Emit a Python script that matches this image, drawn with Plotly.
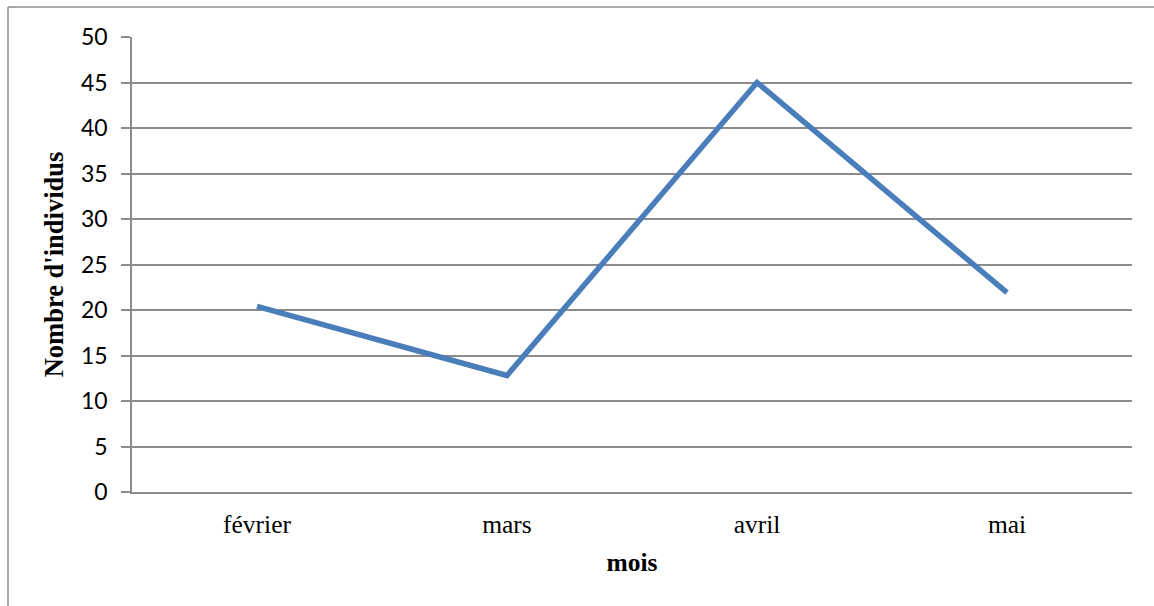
import plotly.graph_objects as go

# Monthly counts
mois = ["février", "mars", "avril", "mai"]
individus = [20.4, 12.8, 45.0, 21.9]
y_ticks = [0, 5, 10, 15, 20, 25, 30, 35, 40, 45, 50]

GRID = "#8c8c8c"
LINE = "#4a7ebb"
SERIF = "Liberation Serif"

fig = go.Figure()
fig.add_trace(go.Scatter(
    x=mois, y=individus, mode="lines",
    line=dict(color=LINE, width=5.5),
    hoverinfo="skip", showlegend=False,
))

fig.update_layout(
    width=1154, height=606,
    margin=dict(l=132, r=22, t=37, b=114),
    paper_bgcolor="white", plot_bgcolor="white",
    showlegend=False,
    xaxis=dict(
        type="category", range=[-0.5, 3.5],
        showgrid=False, showline=True, linecolor=GRID, linewidth=1.5,
        ticks="", zeroline=False, ticklabelstandoff=9,
        tickfont=dict(family=SERIF, size=25.5, color="black"),
        title=dict(text="<b>mois</b>", standoff=15,
                   font=dict(family=SERIF, size=25.5, color="black")),
    ),
    yaxis=dict(
        range=[0, 50], tickvals=y_ticks,
        showgrid=True, gridcolor=GRID, gridwidth=1.5,
        showline=True, linecolor=GRID, linewidth=1.5,
        ticks="outside", ticklen=9, tickcolor=GRID, tickwidth=1.5,
        zeroline=False, ticklabelstandoff=9,
        tickfont=dict(family="Lato", size=23, color="black"),
        title=dict(text="<b>Nombre d'individus</b>", standoff=10,
                   font=dict(family=SERIF, size=26.5, color="black")),
    ),
    shapes=[
        # outer chart frame (left and top edges)
        dict(type="line", xref="paper", yref="paper",
             x0=-0.124, x1=-0.124, y0=-0.26, y1=1.066,
             line=dict(color=GRID, width=1.5)),
        dict(type="line", xref="paper", yref="paper",
             x0=-0.124, x1=1.03, y0=1.066, y1=1.066,
             line=dict(color=GRID, width=1.5)),
    ],
)

fig.write_html("out.html")
